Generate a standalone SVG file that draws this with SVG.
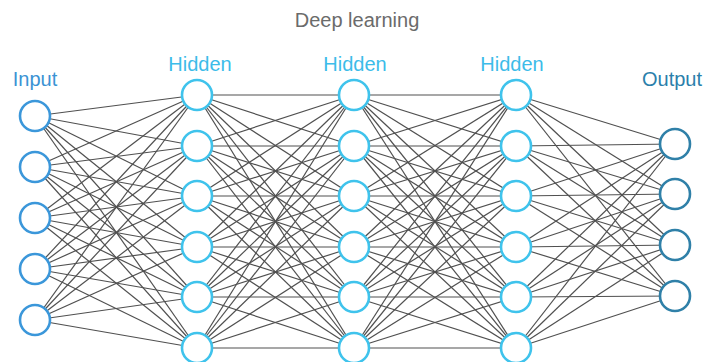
<svg xmlns="http://www.w3.org/2000/svg" width="706" height="362" viewBox="0 0 706 362">
  <style>
    .lbl { font-family: "Liberation Sans", Arial, sans-serif; font-size: 20px; text-anchor: middle; }
    .title { fill: #6b6b6b; }
    .in-t { fill: #3b93d4; }
    .hid-t { fill: #3cbce9; }
    .out-t { fill: #2b7fab; }
    .edges line { stroke: #505050; stroke-width: 1.2; }
    circle { fill: #fff; stroke-width: 2.6; }
    .in circle { stroke: #3b97da; }
    .hid circle { stroke: #3fc3ec; }
    .out circle { stroke: #2f80a8; }
  </style>
  <rect width="706" height="362" fill="#fff"/>
  <text class="lbl title" x="357" y="27">Deep learning</text>
  <text class="lbl in-t" x="35" y="86">Input</text>
  <text class="lbl hid-t" x="200" y="71">Hidden</text>
  <text class="lbl hid-t" x="355" y="71">Hidden</text>
  <text class="lbl hid-t" x="512" y="71">Hidden</text>
  <text class="lbl out-t" x="672" y="86">Output</text>
  <g class="edges" id="connectors">
    <!-- Input -> Hidden 1 -->
    <line x1="35" y1="116" x2="197" y2="95"/><line x1="35" y1="116" x2="197" y2="146"/><line x1="35" y1="116" x2="197" y2="196"/><line x1="35" y1="116" x2="197" y2="247"/><line x1="35" y1="116" x2="197" y2="297"/><line x1="35" y1="116" x2="197" y2="348"/>
    <line x1="35" y1="167" x2="197" y2="95"/><line x1="35" y1="167" x2="197" y2="146"/><line x1="35" y1="167" x2="197" y2="196"/><line x1="35" y1="167" x2="197" y2="247"/><line x1="35" y1="167" x2="197" y2="297"/><line x1="35" y1="167" x2="197" y2="348"/>
    <line x1="35" y1="218" x2="197" y2="95"/><line x1="35" y1="218" x2="197" y2="146"/><line x1="35" y1="218" x2="197" y2="196"/><line x1="35" y1="218" x2="197" y2="247"/><line x1="35" y1="218" x2="197" y2="297"/><line x1="35" y1="218" x2="197" y2="348"/>
    <line x1="35" y1="269" x2="197" y2="95"/><line x1="35" y1="269" x2="197" y2="146"/><line x1="35" y1="269" x2="197" y2="196"/><line x1="35" y1="269" x2="197" y2="247"/><line x1="35" y1="269" x2="197" y2="297"/><line x1="35" y1="269" x2="197" y2="348"/>
    <line x1="35" y1="320" x2="197" y2="95"/><line x1="35" y1="320" x2="197" y2="146"/><line x1="35" y1="320" x2="197" y2="196"/><line x1="35" y1="320" x2="197" y2="247"/><line x1="35" y1="320" x2="197" y2="297"/><line x1="35" y1="320" x2="197" y2="348"/>
    <!-- Hidden 1 -> Hidden 2 -->
    <line x1="197" y1="95" x2="354" y2="95"/><line x1="197" y1="95" x2="354" y2="146"/><line x1="197" y1="95" x2="354" y2="196"/><line x1="197" y1="95" x2="354" y2="247"/><line x1="197" y1="95" x2="354" y2="297"/><line x1="197" y1="95" x2="354" y2="348"/>
    <line x1="197" y1="146" x2="354" y2="95"/><line x1="197" y1="146" x2="354" y2="146"/><line x1="197" y1="146" x2="354" y2="196"/><line x1="197" y1="146" x2="354" y2="247"/><line x1="197" y1="146" x2="354" y2="297"/><line x1="197" y1="146" x2="354" y2="348"/>
    <line x1="197" y1="196" x2="354" y2="95"/><line x1="197" y1="196" x2="354" y2="146"/><line x1="197" y1="196" x2="354" y2="196"/><line x1="197" y1="196" x2="354" y2="247"/><line x1="197" y1="196" x2="354" y2="297"/><line x1="197" y1="196" x2="354" y2="348"/>
    <line x1="197" y1="247" x2="354" y2="95"/><line x1="197" y1="247" x2="354" y2="146"/><line x1="197" y1="247" x2="354" y2="196"/><line x1="197" y1="247" x2="354" y2="247"/><line x1="197" y1="247" x2="354" y2="297"/><line x1="197" y1="247" x2="354" y2="348"/>
    <line x1="197" y1="297" x2="354" y2="95"/><line x1="197" y1="297" x2="354" y2="146"/><line x1="197" y1="297" x2="354" y2="196"/><line x1="197" y1="297" x2="354" y2="247"/><line x1="197" y1="297" x2="354" y2="297"/><line x1="197" y1="297" x2="354" y2="348"/>
    <line x1="197" y1="348" x2="354" y2="95"/><line x1="197" y1="348" x2="354" y2="146"/><line x1="197" y1="348" x2="354" y2="196"/><line x1="197" y1="348" x2="354" y2="247"/><line x1="197" y1="348" x2="354" y2="297"/><line x1="197" y1="348" x2="354" y2="348"/>
    <!-- Hidden 2 -> Hidden 3 -->
    <line x1="354" y1="95" x2="516" y2="95"/><line x1="354" y1="95" x2="516" y2="146"/><line x1="354" y1="95" x2="516" y2="196"/><line x1="354" y1="95" x2="516" y2="247"/><line x1="354" y1="95" x2="516" y2="297"/><line x1="354" y1="95" x2="516" y2="348"/>
    <line x1="354" y1="146" x2="516" y2="95"/><line x1="354" y1="146" x2="516" y2="146"/><line x1="354" y1="146" x2="516" y2="196"/><line x1="354" y1="146" x2="516" y2="247"/><line x1="354" y1="146" x2="516" y2="297"/><line x1="354" y1="146" x2="516" y2="348"/>
    <line x1="354" y1="196" x2="516" y2="95"/><line x1="354" y1="196" x2="516" y2="146"/><line x1="354" y1="196" x2="516" y2="196"/><line x1="354" y1="196" x2="516" y2="247"/><line x1="354" y1="196" x2="516" y2="297"/><line x1="354" y1="196" x2="516" y2="348"/>
    <line x1="354" y1="247" x2="516" y2="95"/><line x1="354" y1="247" x2="516" y2="146"/><line x1="354" y1="247" x2="516" y2="196"/><line x1="354" y1="247" x2="516" y2="247"/><line x1="354" y1="247" x2="516" y2="297"/><line x1="354" y1="247" x2="516" y2="348"/>
    <line x1="354" y1="297" x2="516" y2="95"/><line x1="354" y1="297" x2="516" y2="146"/><line x1="354" y1="297" x2="516" y2="196"/><line x1="354" y1="297" x2="516" y2="247"/><line x1="354" y1="297" x2="516" y2="297"/><line x1="354" y1="297" x2="516" y2="348"/>
    <line x1="354" y1="348" x2="516" y2="95"/><line x1="354" y1="348" x2="516" y2="146"/><line x1="354" y1="348" x2="516" y2="196"/><line x1="354" y1="348" x2="516" y2="247"/><line x1="354" y1="348" x2="516" y2="297"/><line x1="354" y1="348" x2="516" y2="348"/>
    <!-- Hidden 3 -> Output -->
    <line x1="516" y1="95" x2="675" y2="144"/><line x1="516" y1="95" x2="675" y2="194"/><line x1="516" y1="95" x2="675" y2="245"/><line x1="516" y1="95" x2="675" y2="296"/>
    <line x1="516" y1="146" x2="675" y2="144"/><line x1="516" y1="146" x2="675" y2="194"/><line x1="516" y1="146" x2="675" y2="245"/><line x1="516" y1="146" x2="675" y2="296"/>
    <line x1="516" y1="196" x2="675" y2="144"/><line x1="516" y1="196" x2="675" y2="194"/><line x1="516" y1="196" x2="675" y2="245"/><line x1="516" y1="196" x2="675" y2="296"/>
    <line x1="516" y1="247" x2="675" y2="144"/><line x1="516" y1="247" x2="675" y2="194"/><line x1="516" y1="247" x2="675" y2="245"/><line x1="516" y1="247" x2="675" y2="296"/>
    <line x1="516" y1="297" x2="675" y2="144"/><line x1="516" y1="297" x2="675" y2="194"/><line x1="516" y1="297" x2="675" y2="245"/><line x1="516" y1="297" x2="675" y2="296"/>
    <line x1="516" y1="348" x2="675" y2="144"/><line x1="516" y1="348" x2="675" y2="194"/><line x1="516" y1="348" x2="675" y2="245"/><line x1="516" y1="348" x2="675" y2="296"/>
  </g>
  <g class="in">
    <g id="in1"><circle cx="35" cy="116" r="15"/></g>
    <g id="in2"><circle cx="35" cy="167" r="15"/></g>
    <g id="in3"><circle cx="35" cy="218" r="15"/></g>
    <g id="in4"><circle cx="35" cy="269" r="15"/></g>
    <g id="in5"><circle cx="35" cy="320" r="15"/></g>
  </g>
  <g class="hid">
    <g id="h1n1"><circle cx="197" cy="95" r="15"/></g>
    <g id="h1n2"><circle cx="197" cy="146" r="15"/></g>
    <g id="h1n3"><circle cx="197" cy="196" r="15"/></g>
    <g id="h1n4"><circle cx="197" cy="247" r="15"/></g>
    <g id="h1n5"><circle cx="197" cy="297" r="15"/></g>
    <g id="h1n6"><circle cx="197" cy="348" r="15"/></g>
    <g id="h2n1"><circle cx="354" cy="95" r="15"/></g>
    <g id="h2n2"><circle cx="354" cy="146" r="15"/></g>
    <g id="h2n3"><circle cx="354" cy="196" r="15"/></g>
    <g id="h2n4"><circle cx="354" cy="247" r="15"/></g>
    <g id="h2n5"><circle cx="354" cy="297" r="15"/></g>
    <g id="h2n6"><circle cx="354" cy="348" r="15"/></g>
    <g id="h3n1"><circle cx="516" cy="95" r="15"/></g>
    <g id="h3n2"><circle cx="516" cy="146" r="15"/></g>
    <g id="h3n3"><circle cx="516" cy="196" r="15"/></g>
    <g id="h3n4"><circle cx="516" cy="247" r="15"/></g>
    <g id="h3n5"><circle cx="516" cy="297" r="15"/></g>
    <g id="h3n6"><circle cx="516" cy="348" r="15"/></g>
  </g>
  <g class="out">
    <g id="out1"><circle cx="675" cy="144" r="15"/></g>
    <g id="out2"><circle cx="675" cy="194" r="15"/></g>
    <g id="out3"><circle cx="675" cy="245" r="15"/></g>
    <g id="out4"><circle cx="675" cy="296" r="15"/></g>
  </g>
</svg>
